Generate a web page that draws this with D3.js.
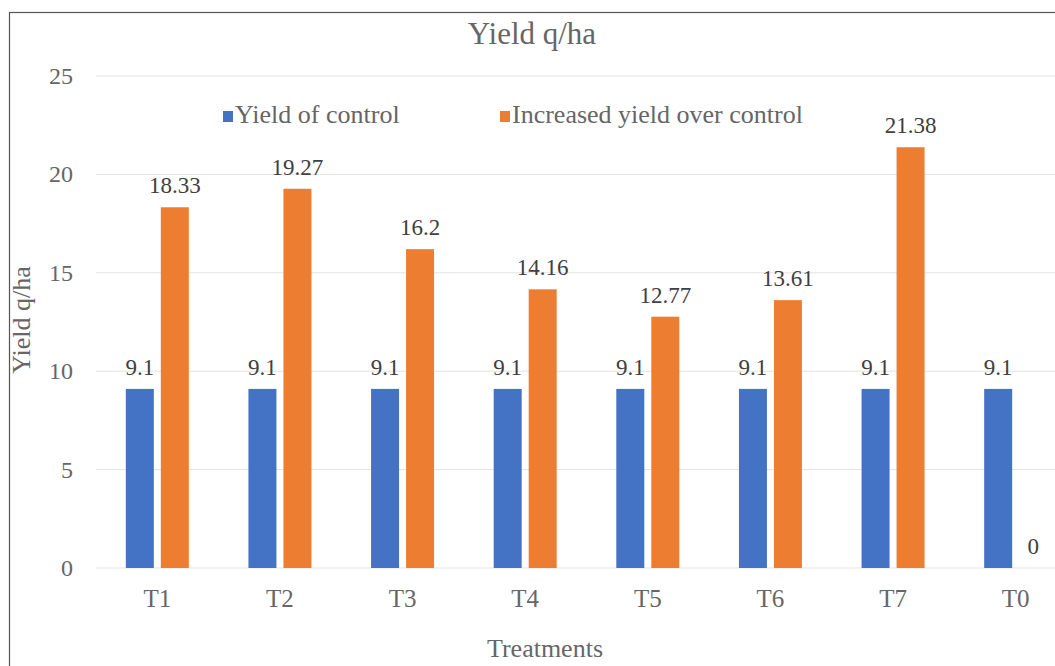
<!DOCTYPE html>
<html><head><meta charset="utf-8">
<script src="https://cdn.jsdelivr.net/npm/d3@7"></script>
<style>body{margin:0;background:#fff} svg text{font-family:"Liberation Serif","DejaVu Serif",serif;}</style>
</head><body>
<script>
const categories = ["T1","T2","T3","T4","T5","T6","T7","T0"];
const controlYield = [9.1,9.1,9.1,9.1,9.1,9.1,9.1,9.1];
const increasedYield = [18.33,19.27,16.2,14.16,12.77,13.61,21.38,0];
const yTicks = [0,5,10,15,20,25];
const seriesNames = ["Yield of control","Increased yield over control"];
const colors = ["#4472C4","#ED7D31"];

(function(){
const W=1055,H=666;
const svg=d3.select("body").append("svg").attr("width",W).attr("height",H);
svg.append("rect").attr("x",9.5).attr("y",12.5).attr("width",W+20).attr("height",H+20)
  .attr("fill","#fff").attr("stroke","#555").attr("stroke-width",1.2);

const pL=96, pR=1077, pT=76, pB=568;
const x=d3.scaleBand().domain(categories).range([pL,pR]);
const y=d3.scaleLinear().domain([0,25]).range([pB,pT]);

svg.append("g").selectAll("line").data(yTicks).join("line")
  .attr("x1",pL).attr("x2",pR).attr("y1",d=>y(d)).attr("y2",d=>y(d))
  .attr("stroke","#e3e3e3").attr("stroke-width",1);

svg.append("g").selectAll("text").data(yTicks).join("text")
  .attr("x",73).attr("y",d=>y(d)+8).attr("text-anchor","end")
  .attr("font-size",24).attr("fill","#666").text(d=>d);

const bw=28, gap=7;
const series=[controlYield,increasedYield];
series.forEach((vals,si)=>{
  const off = si===0 ? -bw-gap/2 : gap/2;
  const g=svg.append("g");
  g.selectAll("rect").data(vals).join("rect")
    .attr("x",(d,i)=>x(categories[i])+x.bandwidth()/2+off)
    .attr("width",bw)
    .attr("y",d=>y(d)).attr("height",d=>pB-y(d))
    .attr("fill",colors[si]);
  g.selectAll("text").data(vals).join("text")
    .attr("x",(d,i)=>x(categories[i])+x.bandwidth()/2+off+bw/2)
    .attr("y",d=>y(d)-14)
    .attr("text-anchor","middle").attr("font-size",23)
    .attr("fill","#404040").text(d=>d);
});

svg.append("g").selectAll("text").data(categories).join("text")
  .attr("x",d=>x(d)+x.bandwidth()/2).attr("y",607).attr("text-anchor","middle")
  .attr("font-size",25).attr("fill","#666").text(d=>d);

svg.append("text").attr("x",532).attr("y",44).attr("text-anchor","middle")
  .attr("font-size",31).attr("fill","#666").text("Yield q/ha");
svg.append("text").attr("x",545).attr("y",657).attr("text-anchor","middle")
  .attr("font-size",26).attr("fill","#666").text("Treatments");
svg.append("text").attr("transform","translate(30,320) rotate(-90)").attr("text-anchor","middle")
  .attr("font-size",26).attr("fill","#666").text("Yield q/ha");

const legX=[223,500];
seriesNames.forEach((n,i)=>{
  svg.append("rect").attr("x",legX[i]).attr("y",111).attr("width",10).attr("height",11).attr("fill",colors[i]);
  svg.append("text").attr("x",legX[i]+12).attr("y",123).attr("font-size",26)
    .attr("fill","#666").text(n);
});
})();
</script>
</body></html>
